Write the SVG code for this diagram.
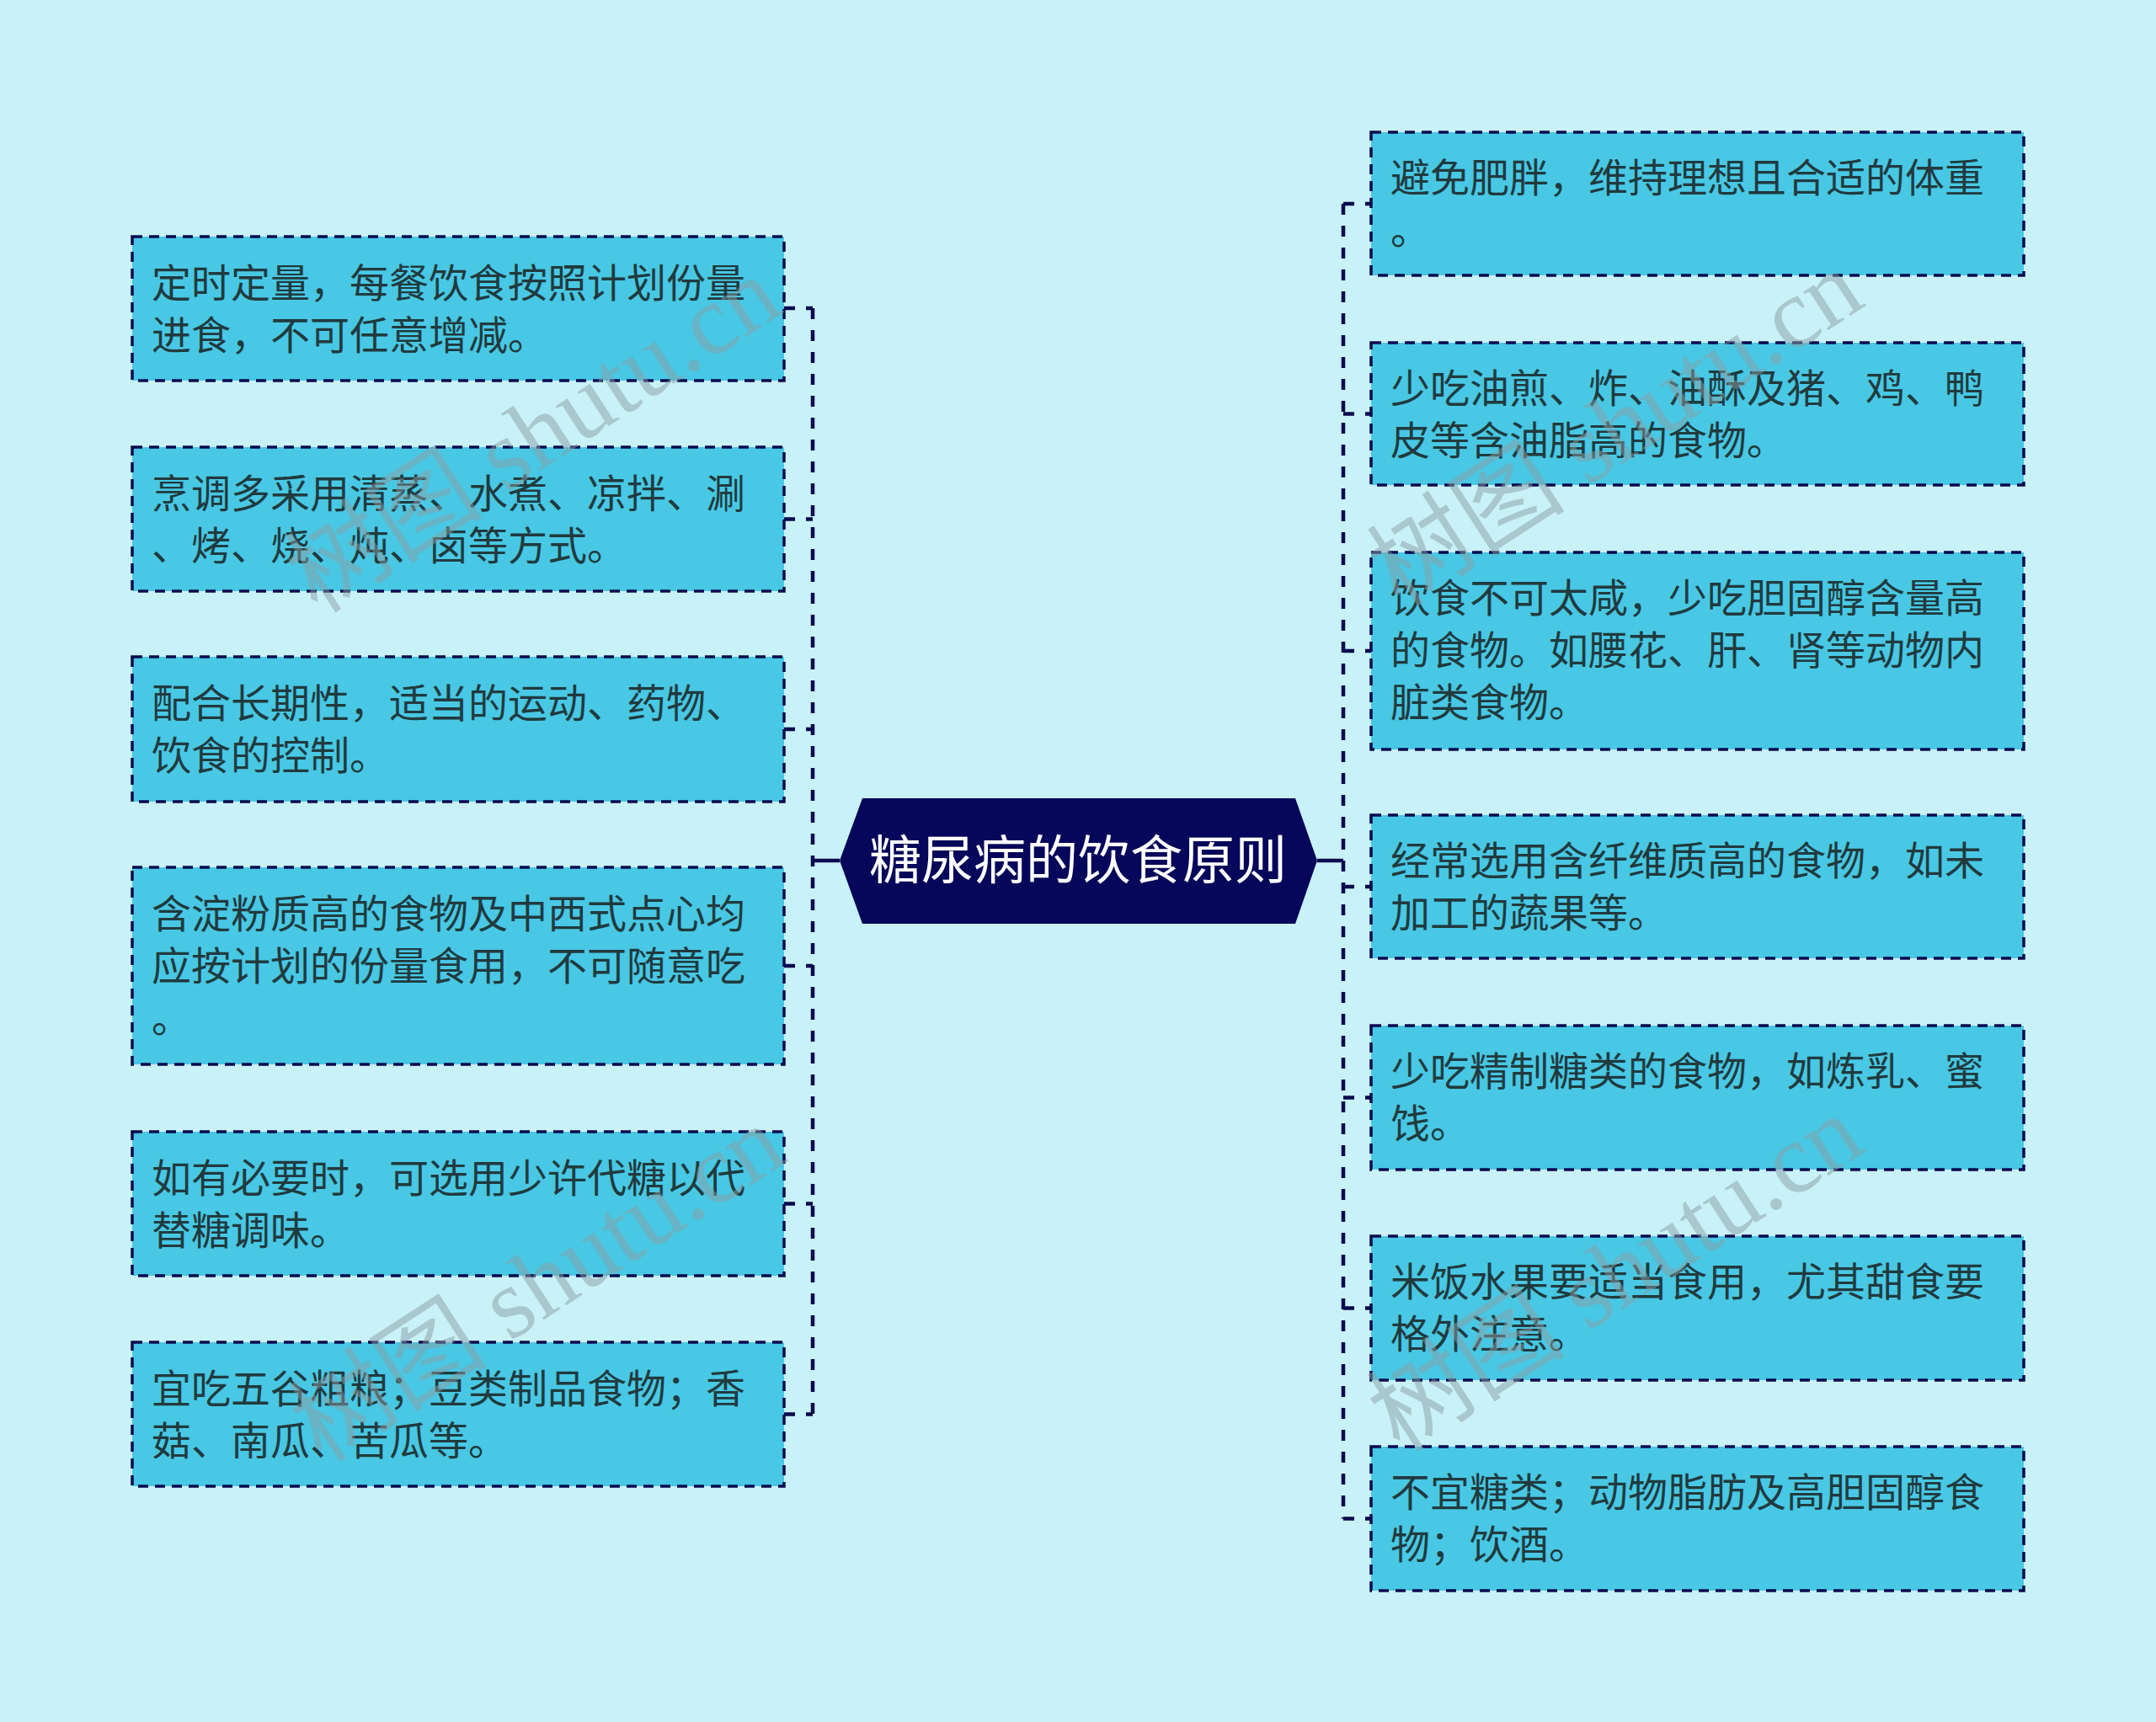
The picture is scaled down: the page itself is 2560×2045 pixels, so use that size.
<svg xmlns="http://www.w3.org/2000/svg" width="2560" height="2045" viewBox="0 0 2560 2045">
<style>
.bg{fill:#c9f1f8}
.box{fill:#48c8e4;stroke:#0a0a4e;stroke-width:3.5;stroke-dasharray:12 8}
.t{font-family:"Noto Sans CJK SC","Noto Sans",sans-serif;font-size:47px;fill:#213a3e}
.ct{font-family:"Noto Sans CJK SC","Noto Sans",sans-serif;font-size:62px;fill:#ffffff;text-anchor:middle}
.c{fill:none;stroke:#0a0a4e;stroke-width:4.5;stroke-dasharray:13 13}
.cs{fill:none;stroke:#0a0a4e;stroke-width:4.5}
.wm{font-family:"Liberation Serif","Noto Sans CJK SC",serif;font-size:118px;fill:#8a9ea3;fill-opacity:0.5;text-anchor:middle}
</style>
<rect class="bg" x="0" y="0" width="2560" height="2045"/>
<g id="connectors">
<path class="c" d="M965 366 V1680"/>
<path class="c" d="M931 366 H965 M931 616.5 H965 M931 866 H965 M931 1147 H965 M931 1429.5 H965 M931 1679.5 H965"/>
<path class="cs" d="M997 1022 H965"/>
<path class="c" d="M1595 242 V1803.5"/>
<path class="c" d="M1595 242 H1628 M1595 491.5 H1628 M1595 773 H1628 M1595 1053 H1628 M1595 1303.5 H1628 M1595 1553.5 H1628 M1595 1803.5 H1628"/>
<path class="cs" d="M1564 1022 H1595"/>
</g>
<g id="center">
<polygon points="997,1022 1024,948 1538,948 1564,1022 1538,1097 1024,1097" fill="#06065a"/>
<text class="ct" x="1280" y="1044">糖尿病的饮食原则</text>
</g>
<g id="l1"><rect class="box" x="157" y="281" width="774" height="171"/><text class="t" x="180" y="353">定时定量，每餐饮食按照计划份量</text><text class="t" x="180" y="415">进食，不可任意增减。</text></g>
<g id="l2"><rect class="box" x="157" y="531" width="774" height="171"/><text class="t" x="180" y="603">烹调多采用清蒸、水煮、凉拌、涮</text><text class="t" x="180" y="665">、烤、烧、炖、卤等方式。</text></g>
<g id="l3"><rect class="box" x="157" y="780" width="774" height="172"/><text class="t" x="180" y="852">配合长期性，适当的运动、药物、</text><text class="t" x="180" y="914">饮食的控制。</text></g>
<g id="l4"><rect class="box" x="157" y="1030" width="774" height="234"/><text class="t" x="180" y="1102">含淀粉质高的食物及中西式点心均</text><text class="t" x="180" y="1164">应按计划的份量食用，不可随意吃</text><text class="t" x="180" y="1226">。</text></g>
<g id="l5"><rect class="box" x="157" y="1344" width="774" height="171"/><text class="t" x="180" y="1416">如有必要时，可选用少许代糖以代</text><text class="t" x="180" y="1478">替糖调味。</text></g>
<g id="l6"><rect class="box" x="157" y="1594" width="774" height="171"/><text class="t" x="180" y="1666">宜吃五谷粗粮；豆类制品食物；香</text><text class="t" x="180" y="1728">菇、南瓜、苦瓜等。</text></g>
<g id="r1"><rect class="box" x="1628" y="157" width="775" height="170"/><text class="t" x="1651" y="228">避免肥胖，维持理想且合适的体重</text><text class="t" x="1651" y="290">。</text></g>
<g id="r2"><rect class="box" x="1628" y="407" width="775" height="169"/><text class="t" x="1651" y="478">少吃油煎、炸、油酥及猪、鸡、鸭</text><text class="t" x="1651" y="540">皮等含油脂高的食物。</text></g>
<g id="r3"><rect class="box" x="1628" y="656" width="775" height="234"/><text class="t" x="1651" y="727">饮食不可太咸，少吃胆固醇含量高</text><text class="t" x="1651" y="789">的食物。如腰花、肝、肾等动物内</text><text class="t" x="1651" y="851">脏类食物。</text></g>
<g id="r4"><rect class="box" x="1628" y="968" width="775" height="170"/><text class="t" x="1651" y="1039">经常选用含纤维质高的食物，如未</text><text class="t" x="1651" y="1101">加工的蔬果等。</text></g>
<g id="r5"><rect class="box" x="1628" y="1218" width="775" height="171"/><text class="t" x="1651" y="1289">少吃精制糖类的食物，如炼乳、蜜</text><text class="t" x="1651" y="1351">饯。</text></g>
<g id="r6"><rect class="box" x="1628" y="1468" width="775" height="171"/><text class="t" x="1651" y="1539">米饭水果要适当食用，尤其甜食要</text><text class="t" x="1651" y="1601">格外注意。</text></g>
<g id="r7"><rect class="box" x="1628" y="1718" width="775" height="171"/><text class="t" x="1651" y="1789">不宜糖类；动物脂肪及高胆固醇食</text><text class="t" x="1651" y="1851">物；饮酒。</text></g>
<g id="watermarks">
<text class="wm" transform="translate(655 550) rotate(-33)">树图 shutu.cn</text>
<text class="wm" transform="translate(660 1558) rotate(-33)">树图 shutu.cn</text>
<text class="wm" transform="translate(1940 542) rotate(-33)">树图 shutu.cn</text>
<text class="wm" transform="translate(1940 1546) rotate(-33)">树图 shutu.cn</text>
</g>
</svg>
